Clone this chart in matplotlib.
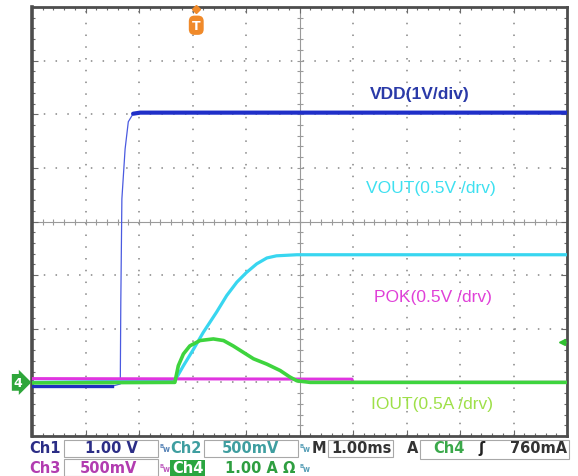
import numpy as np
import matplotlib
matplotlib.use("Agg")
import matplotlib.pyplot as plt
from matplotlib.patches import Rectangle

# scope screen: 10 div x 8 div, x in ms (1 ms/div), y in divisions from the bottom
vdd_t = [0.0, 1.50, 1.65, 1.66, 1.68, 1.74, 1.80, 1.89, 2.02, 10.0]
vdd_v = [0.93, 0.93, 0.97, 2.50, 4.42, 5.35, 5.86, 6.01, 6.03, 6.03]

vout_t = [0.0, 2.67, 2.83, 3.02, 3.20, 3.45, 3.64, 3.83, 4.01, 4.20, 4.39, 4.57, 4.95, 10.0]
vout_v = [1.0, 1.03, 1.31, 1.62, 1.93, 2.31, 2.62, 2.87, 3.05, 3.21, 3.32, 3.36, 3.38, 3.38]

pok_t = [0.0, 5.98, 6.0, 10.0]
pok_v = [1.07, 1.06, 1.0, 1.0]

iout_t = [0.0, 2.67, 2.735, 2.83, 2.95, 3.14, 3.39, 3.58, 3.76, 3.95, 4.14, 4.39, 4.64,
          4.82, 4.95, 5.2, 10.0]
iout_v = [0.99, 1.0, 1.31, 1.53, 1.68, 1.78, 1.81, 1.78, 1.68, 1.56, 1.44, 1.34, 1.22,
          1.10, 1.03, 1.0, 1.0]

trace_labels = ["VDD(1V/div)", "VOUT(0.5V /drv)", "POK(0.5V /drv)", "IOUT(0.5A /drv)"]
trig_time = 3.07
trig_level = 1.75

W, H = 578, 477
fig = plt.figure(figsize=(W / 100, H / 100), dpi=100)
fig.patch.set_facecolor("white")
ax = fig.add_axes([32 / W, 40 / H, 535 / W, 429 / H])
ax.set_xlim(0, 10)
ax.set_ylim(0, 8)

# frame + edge ticks
for s in ax.spines.values():
    s.set_color("#4d4d4d")
    s.set_linewidth(2.0)
ax.spines["left"].set_linewidth(2.6)
ax.set_xticks(np.arange(0, 10.01, 1))
ax.set_yticks(np.arange(0, 8.01, 1))
ax.set_xticks(np.arange(0, 10.01, 0.2), minor=True)
ax.set_yticks(np.arange(0, 8.01, 0.2), minor=True)
ax.tick_params(which="both", direction="in", top=True, right=True,
               labelbottom=False, labelleft=False, color="#6a6a6a", width=0.8)
ax.tick_params(which="major", length=4)
ax.tick_params(which="minor", length=2.5)

# dotted graticule
for gx in range(1, 10):
    if gx != 5:
        ax.axvline(gx, ls=(0, (1.0, 6.7)), lw=1.1, color="#858585", zorder=1)
for gy in range(1, 8):
    if gy != 4:
        ax.axhline(gy, ls=(0, (1.0, 6.7)), lw=1.1, color="#858585", zorder=1)

# centre axes with crossing ticks
ax.axhline(4, color="#9a9a9a", lw=0.8, zorder=1)
ax.axvline(5, color="#9a9a9a", lw=0.8, zorder=1)
xs = np.arange(0, 10.01, 0.2)
ys = np.arange(0, 8.01, 0.2)
ax.plot(xs, np.full(len(xs), 4.0), ls="none", marker="|", ms=5, mew=0.8, color="#9a9a9a", zorder=1)
ax.plot(np.full(len(ys), 5.0), ys, ls="none", marker="_", ms=5, mew=0.8, color="#9a9a9a", zorder=1)

# traces (fast edge of VDD is drawn thin like on the scope)
ax.plot(vdd_t, vdd_v, color="#4a5ae0", lw=0.9, zorder=3)
ax.plot(vdd_t[:2], vdd_v[:2], color="#1f2fc0", lw=2.4, zorder=3)
ax.plot(vdd_t[7:], vdd_v[7:], color="#1f2fc8", lw=3.0, zorder=3, solid_capstyle="round")
ax.plot(vout_t, vout_v, color="#38d6f0", lw=2.3, zorder=4)
ax.plot(pok_t, pok_v, color="#e035e0", lw=2.2, zorder=5)
ax.plot(iout_t, iout_v, color="#3ed43e", lw=2.6, zorder=6)

# trace labels
lab_pos = [(7.25, 6.38), (7.45, 4.63), (7.50, 2.61), (7.48, 0.60)]
lab_col = ["#2a3aa8", "#3ee0f0", "#e040d8", "#9ee048"]
lab_wt = ["bold", "normal", "normal", "normal"]
for txt, (lx, ly), c, wt in zip(trace_labels, lab_pos, lab_col, lab_wt):
    ax.text(lx, ly, txt, color=c, fontsize=12.5, fontweight=wt, family="Liberation Sans",
            ha="center", va="center", zorder=7)

# trigger markers
ax.plot([trig_time], [7.97], marker="D", ms=4.5, color="#f08a2a", clip_on=False, zorder=8)
ax.text(trig_time, 7.66, "T", color="white", fontsize=9, fontweight="bold", ha="center",
        va="center", zorder=8,
        bbox=dict(boxstyle="round,pad=0.25,rounding_size=0.45", fc="#f08a2a", ec="none"))
ax.plot([9.9], [trig_level], marker="<", ms=5, color="#30c030", clip_on=False, zorder=8)
ax.plot([9.9, 10.0], [trig_level, trig_level], color="#30c030", lw=1.0, zorder=8)
ax.text(-0.26, 1.0, "4", color="white", fontsize=9, fontweight="bold", ha="center", va="center",
        clip_on=False, bbox=dict(boxstyle="rarrow,pad=0.15", fc="#2ea63a", ec="none"))


# status bar below the screen (pixel coordinates)
def px(x, y):
    return x / W, 1 - y / H


def box(x0, x1, y0, y1, fc="white", ec="#a8a8a8"):
    fig.patches.append(Rectangle(px(x0, y1), (x1 - x0) / W, (y1 - y0) / H,
                                 transform=fig.transFigure, fc=fc, ec=ec, lw=0.8))


def bw(x, y, c):
    fig.text(*px(x, y), r"$^{\mathbf{B}}\!\mathbf{w}$", color=c, fontsize=5.5, va="center")


box(64, 158, 441, 458)
box(204, 298, 441, 458)
box(328, 393, 441, 458)
box(420, 569, 441, 460)
box(64, 158, 460, 477)
box(170, 205, 461, 477, fc="#2aa640", ec="none")

fp = dict(fontsize=10.5, fontweight="bold", va="center", family="DejaVu Sans")
fig.text(*px(29, 449), "Ch1", color="#2b2d86", **fp)
fig.text(*px(85, 449), "1.00 V", color="#2b2d86", **fp)
bw(159, 449, "#5a86b8")
fig.text(*px(170, 449), "Ch2", color="#3f9ea0", **fp)
fig.text(*px(222, 449), "500mV", color="#3f9ea0", **fp)
bw(299, 449, "#5aa0b8")
fig.text(*px(312, 449), "M", color="#333333", **fp)
fig.text(*px(331, 449), "1.00ms", color="#333333", **fp)
fig.text(*px(407, 449), "A", color="#333333", **fp)
fig.text(*px(433, 449), "Ch4", color="#3aa84a", **fp)
fig.text(*px(478, 449), "ʃ", color="#222222", **fp)
fig.text(*px(567, 449), "760mA", color="#333333", ha="right", **fp)

fig.text(*px(29, 469), "Ch3", color="#b23cb0", **fp)
fig.text(*px(80, 469), "500mV", color="#b23cb0", **fp)
bw(159, 469, "#c060c0")
fig.text(*px(172, 469), "Ch4", color="white", **fp)
fig.text(*px(225, 469), "1.00 A Ω", color="#2e9e40", **fp)
bw(299, 469, "#5aa0b8")

fig.savefig("out.png", dpi=100, facecolor="white")
